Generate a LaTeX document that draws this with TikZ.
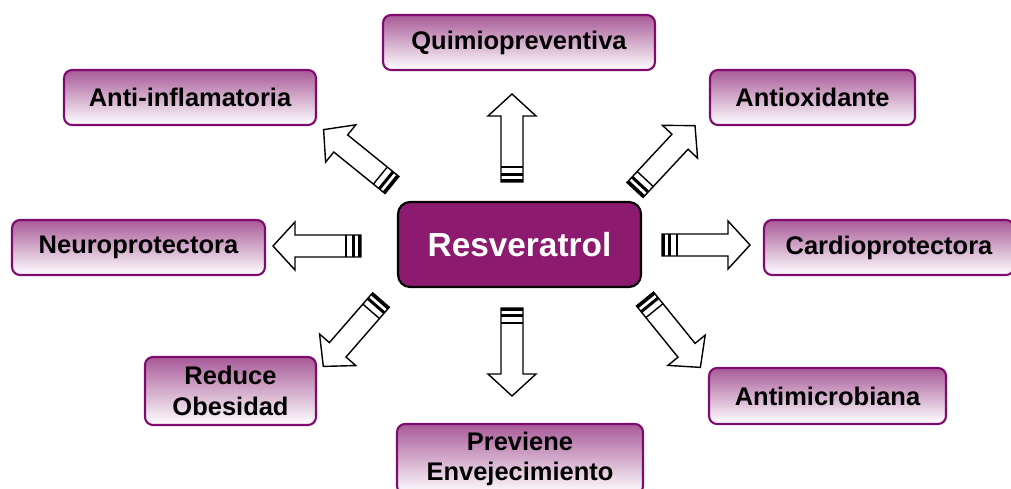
\documentclass[tikz,border=0pt]{standalone}
\usepackage{fontspec}
\setmainfont{Liberation Sans}
\definecolor{plum}{HTML}{8C1A6E}
\definecolor{plumedge}{HTML}{800B6E}
\definecolor{plumtop}{HTML}{A85A98}
\tikzset{
  effect/.style={draw=plumedge, line width=1.2pt, rounded corners=0.16cm, top color=plumtop, bottom color=white,
    font=\fontsize{14.5}{17.5}\selectfont\bfseries, align=center, inner sep=0pt},
  core/.style={draw=black, line width=1.2pt, rounded corners=0.24cm, fill=plum, text=white,
    font=\fontsize{19}{23}\selectfont\bfseries, inner sep=0pt},
  pics/blockarrow/.style={code={
    \draw[line width=0.8pt, fill=white] (0,-11) -- (66,-11) -- (66,-24) -- (88,0) -- (66,24) -- (66,11) -- (0,11) -- cycle;
    \fill (0,-11) rectangle (3,11);
    \fill (6,-11) rectangle (9,11);
    \draw[line width=0.8pt] (15,-11) -- (15,11);
  }}
}
\begin{document}
\begin{tikzpicture}[x=0.02cm, y=-0.02cm]
  \useasboundingbox (0,0) rectangle (1011,489);
  \node[core, minimum width=4.86cm, minimum height=1.7cm] (res) at (519.5,244.5) {Resveratrol};
  \node[effect, minimum width=5.44cm, minimum height=1.1cm] (quimio) at (519,42.5) {Quimiopreventiva};
  \node[effect, minimum width=5.04cm, minimum height=1.1cm] (inflam) at (190,97.5) {Anti-inflamatoria};
  \node[effect, minimum width=4.1cm, minimum height=1.1cm] (oxid) at (812.5,97.5) {Antioxidante};
  \node[effect, minimum width=5.06cm, minimum height=1.1cm] (neuro) at (138.5,247.5) {Neuroprotectora};
  \node[effect, minimum width=5.0cm, minimum height=1.1cm] (cardio) at (889,247.5) {Cardioprotectora};
  \node[effect, minimum width=3.42cm, minimum height=1.36cm] (obes) at (230.5,391) {Reduce\\Obesidad};
  \node[effect, minimum width=4.74cm, minimum height=1.12cm] (micro) at (827.5,396) {Antimicrobiana};
  \node[effect, minimum width=4.92cm, minimum height=1.4cm] (enve) at (520,459) {Previene\\Envejecimiento};

  \pic[rotate=90] at (512,182) {blockarrow};
  \pic[rotate=-90] at (512,308) {blockarrow};
  \pic[rotate=180] at (361,246) {blockarrow};
  \pic at (662,245) {blockarrow};
  \pic[rotate=141] at (392,185) {blockarrow};
  \pic[rotate=47] at (635,190) {blockarrow};
  \pic[rotate=229] at (381,300) {blockarrow};
  \pic[rotate=-51] at (645,299) {blockarrow};
\end{tikzpicture}
\end{document}
